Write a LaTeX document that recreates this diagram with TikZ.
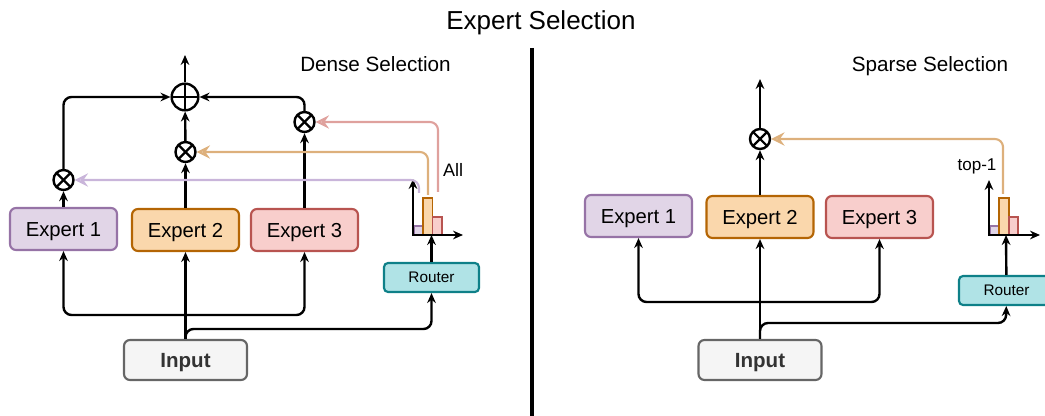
\documentclass[tikz,border=0pt]{standalone}
\usepackage{fontspec}
\setmainfont{Liberation Sans}
\usetikzlibrary{arrows.meta}

\definecolor{eOneFill}{HTML}{E1D5E7}
\definecolor{eOneLine}{HTML}{9673A6}
\definecolor{eTwoFill}{HTML}{FAD7AC}
\definecolor{eTwoLine}{HTML}{B46504}
\definecolor{eThreeFill}{HTML}{F8CECC}
\definecolor{eThreeLine}{HTML}{B85450}
\definecolor{routerFill}{HTML}{B0E3E6}
\definecolor{routerLine}{HTML}{0E8088}
\definecolor{inFill}{HTML}{F5F5F5}
\definecolor{inLine}{HTML}{666666}
\definecolor{inText}{HTML}{333333}
\definecolor{selOne}{HTML}{C9B5DA}
\definecolor{selTwo}{HTML}{DDB07C}
\definecolor{selThree}{HTML}{DFA19D}

\begin{document}
\begin{tikzpicture}[x=0.75pt,y=-0.75pt,
  % text boxes are cap-height tall so that words sit centred
  expert/.style={draw, line width=1.6pt, rounded corners=4.5pt,
    minimum width=80.25pt, minimum height=31.5pt, inner sep=0pt,
    text height=10.9pt, text depth=0pt,
    font=\fontsize{15.2}{18}\selectfont},
  router/.style={draw=routerLine, fill=routerFill, line width=1.6pt,
    rounded corners=3pt, minimum width=71.25pt, minimum height=21.75pt,
    inner sep=0pt, text height=8.2pt, text depth=0pt,
    font=\fontsize{11.5}{13}\selectfont},
  inputbox/.style={draw=inLine, fill=inFill, line width=1.6pt,
    rounded corners=4.5pt, minimum width=92.25pt, minimum height=30pt,
    inner sep=0pt, text=inText, text height=11pt, text depth=0pt,
    font=\fontsize{15.4}{18}\selectfont\bfseries},
  mult/.style={circle, draw, line width=1.8pt, minimum size=15pt, inner sep=0pt,
    path picture={
      \draw[line width=1.6pt] (path picture bounding box.north east) -- (path picture bounding box.south west);
      \draw[line width=1.6pt] (path picture bounding box.north west) -- (path picture bounding box.south east);}},
  plus/.style={circle, draw, line width=1.8pt, minimum size=20pt, inner sep=0pt,
    path picture={
      \draw[line width=1.6pt] (path picture bounding box.north) -- (path picture bounding box.south);
      \draw[line width=1.6pt] (path picture bounding box.west) -- (path picture bounding box.east);}},
  wire/.style={line width=1.8pt, -{Stealth[length=7.5pt,width=6.5pt,inset=2.5pt]}},
  sel/.style={line width=1.6pt, rounded corners=6pt, draw=#1,
    -{Stealth[length=10pt,width=10pt,inset=3.5pt,fill=#1!45]}},
  bar/.style={line width=1.1pt},
  axis/.style={line width=1.6pt, -{Stealth[length=7.5pt,width=6.5pt,inset=2.5pt]}},
  label/.style={font=\fontsize{15.5}{18}\selectfont, text height=11.1pt, text depth=0pt},
  small label/.style={font=\fontsize{#1}{16}\selectfont, text height=0.716*#1 pt, text depth=0pt}
]
\useasboundingbox (0,0) rectangle (1045,416);

% title and divider
\node[font=\fontsize{19.5}{23}\selectfont, text height=14pt, text depth=0pt] (title) at (541,20) {Expert Selection};
\draw[line width=2.4pt] (532,48) -- (532,416);

% ---------------- dense selection ----------------
\node[label] (denseLabel) at (375.5,64) {Dense Selection};

\node[expert, fill=eOneFill, draw=eOneLine] (le1) at (63.5,229) {Expert 1};
\node[expert, fill=eTwoFill, draw=eTwoLine] (le2) at (185.5,230) {Expert 2};
\node[expert, fill=eThreeFill, draw=eThreeLine] (le3) at (304.5,230) {Expert 3};

\node[mult] (lm1) at (63.5,180) {};
\node[mult] (lm2) at (185.5,152) {};
\node[mult] (lm3) at (304.5,122) {};
\node[plus] (lp) at (185,97) {};
\coordinate (lout) at (185,55);

\node[router] (lr) at (431.5,277.5) {Router};
\node[inputbox] (lin) at (185.5,360) {Input};

% routing histogram
\draw[bar, fill=eOneFill, draw=eOneLine] (414,226) rectangle (423,235);
\draw[bar, fill=eTwoFill, draw=eTwoLine] (423,198) rectangle (432.5,235);
\draw[bar, fill=eThreeFill, draw=eThreeLine] (432.5,217) rectangle (442,235);
\coordinate (lax0) at (413,236);
\coordinate (laxY) at (413,179);
\coordinate (lax1) at (412,235);
\coordinate (laxX) at (463,235);
\draw[axis] (lax0) -- (laxY);
\draw[axis] (lax1) -- (laxX);
\coordinate (lhb) at (431.5,235);
\node[small label=13.5] (allLabel) at (453,170) {All};

% expert outputs
\draw[wire] (le1) -- (lm1);
\draw[wire] (le2) -- (lm2);
\draw[wire] (le3) -- (lm3);
\draw[wire] (lm2) -- (lp);
\draw[wire, rounded corners=6pt] (lm1) |- (lp);
\draw[wire, rounded corners=6pt] (lm3) |- (lp);
\draw[wire] (lp) -- (lout);

% gate weights
\coordinate (lh1) at (419,193);
\coordinate (lh2) at (428,195);
\coordinate (lh3) at (438,192);
\draw[sel=selOne] (lh1) |- (lm1);
\draw[sel=selTwo] (lh2) |- (lm2);
\draw[sel=selThree] (lh3) |- (lm3);

% input distribution
\coordinate (lj) at (185.5,315);
\coordinate (lrj) at (431.5,329);
\draw[wire] (lin) -- (le2);
\draw[wire, rounded corners=6pt] (lj) -| (le1);
\draw[wire, rounded corners=6pt] (lj) -| (le3);
\draw[wire, rounded corners=6pt] (lin.north) |- (lrj) -- (lr);
\draw[wire] (lr) -- (lhb);

% ---------------- sparse selection ----------------
\node[label] (sparseLabel) at (930,64) {Sparse Selection};

\node[expert, fill=eOneFill, draw=eOneLine] (re1) at (638.5,216) {Expert 1};
\node[expert, fill=eTwoFill, draw=eTwoLine] (re2) at (760,217) {Expert 2};
\node[expert, fill=eThreeFill, draw=eThreeLine] (re3) at (879.5,217) {Expert 3};

\node[mult] (rm) at (760,139) {};
\coordinate (rout) at (760,79);

\node[router] (rr) at (1006.5,290.5) {Router};
\node[inputbox] (rin) at (760,360) {Input};

% routing histogram
\draw[bar, fill=eOneFill, draw=eOneLine] (990,226) rectangle (999,235);
\draw[bar, fill=eTwoFill, draw=eTwoLine] (999,198) rectangle (1009,235);
\draw[bar, fill=eThreeFill, draw=eThreeLine] (1009,217) rectangle (1018,235);
\coordinate (rax0) at (989,236);
\coordinate (raxY) at (989,180);
\coordinate (rax1) at (988,235);
\coordinate (raxX) at (1040,235);
\draw[axis] (rax0) -- (raxY);
\draw[axis] (rax1) -- (raxX);
\coordinate (rhb) at (1006,235);
\node[small label=12.8] (topLabel) at (977,164) {top-1};

% selected expert output
\draw[wire] (re2) -- (rm);
\draw[wire] (rm) -- (rout);
\coordinate (rh2) at (1003,194);
\draw[sel=selTwo] (rh2) |- (rm);

% input distribution
\coordinate (rj) at (760,302);
\coordinate (rrj) at (1006,323);
\draw[wire] (rin) -- (re2);
\draw[wire, rounded corners=6pt] (rj) -| (re1);
\draw[wire, rounded corners=6pt] (rj) -| (re3);
\draw[wire, rounded corners=6pt] (rin.north) |- (rrj) -- (rr);
\draw[wire] (rr) -- (rhb);
\end{tikzpicture}
\end{document}
